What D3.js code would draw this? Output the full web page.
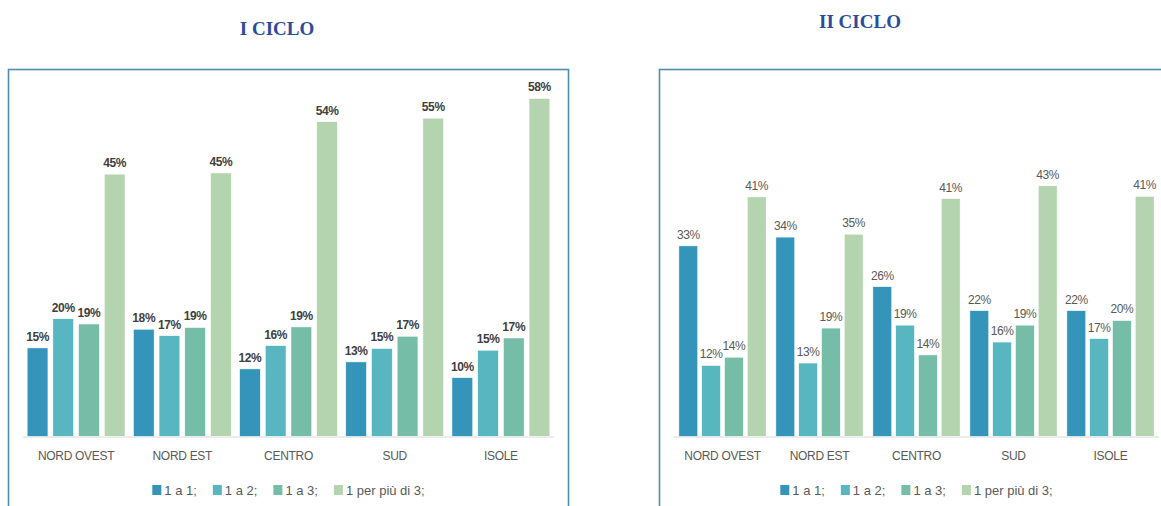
<!DOCTYPE html>
<html>
<head>
<meta charset="utf-8">
<script src="https://cdn.jsdelivr.net/npm/d3@7"></script>
<style>
  body { margin: 0; background: #fff; }
  svg { display: block; }
</style>
</head>
<body>
<div id="viz"></div>
<script>
const regions = ['NORD OVEST', 'NORD EST', 'CENTRO', 'SUD', 'ISOLE'];
const seriesNames = ['1 a 1;', '1 a 2;', '1 a 3;', '1 per più di 3;'];
const colors = ['#3494BA', '#58B6C0', '#75BDA7', '#B4D4B0'];

// I ciclo, one array per series (percent)
const primo1a1 = [15.2, 18.4, 11.6, 12.8, 10.1];
const primo1a2 = [20.2, 17.3, 15.6, 15.1, 14.8];
const primo1a3 = [19.3, 18.7, 18.8, 17.2, 16.9];
const primo1p3 = [45.0, 45.2, 54.0, 54.6, 58.0];

// II ciclo
const secondo1a1 = [32.7, 34.2, 25.7, 21.6, 21.6];
const secondo1a2 = [12.2, 12.6, 19.1, 16.2, 16.8];
const secondo1a3 = [13.6, 18.6, 14.0, 19.1, 19.9];
const secondo1p3 = [41.1, 34.7, 40.8, 43.0, 41.2];

const W = 1161, H = 506;
const svg = d3.select('#viz').append('svg')
  .attr('width', W).attr('height', H);

const y = d3.scaleLinear().domain([0, 62]).range([436.5, 75]);
const fmt = v => d3.format('.0f')(v) + '%';

function drawPanel({ title, titleX, titleY, series, box, range, padOuter, padSub, bold, labelColor }) {
  const g = svg.append('g');

  g.append('text')
    .attr('x', titleX).attr('y', titleY)
    .attr('text-anchor', 'middle')
    .style('font-family', '"Liberation Serif", serif')
    .style('font-weight', 'bold')
    .style('font-size', '19px')
    .attr('fill', '#2C4C9C')
    .text(title);

  g.append('rect')
    .attr('x', box[0]).attr('y', box[1])
    .attr('width', box[2]).attr('height', 600)
    .attr('fill', 'none')
    .attr('stroke', '#4F8DAA')
    .attr('stroke-width', 1.6);

  const x0 = d3.scaleBand().domain(regions).range(range)
    .paddingInner(padOuter).paddingOuter(padOuter / 2);
  const x1 = d3.scaleBand().domain(d3.range(seriesNames.length))
    .range([0, x0.bandwidth()]).paddingInner(padSub);

  g.append('line')
    .attr('x1', range[0]).attr('x2', range[1])
    .attr('y1', y(0) + 0.5).attr('y2', y(0) + 0.5)
    .attr('stroke', '#D9D9D9').attr('stroke-width', 1.2);

  regions.forEach((r, i) => {
    const grp = g.append('g').attr('transform', `translate(${x0(r)},0)`);
    series.forEach((s, k) => {
      const v = s[i];
      grp.append('rect')
        .attr('x', x1(k)).attr('y', y(v))
        .attr('width', x1.bandwidth()).attr('height', y(0) - y(v))
        .attr('fill', colors[k])
        .attr('stroke', '#fff').attr('stroke-width', 0.6);
      grp.append('text')
        .attr('x', x1(k) + x1.bandwidth() / 2)
        .attr('y', y(v) - 7)
        .attr('text-anchor', 'middle')
        .style('font-family', '"Liberation Sans", Arial, sans-serif')
        .style('font-size', '12px')
        .style('font-weight', bold ? 'bold' : 'normal')
        .style('letter-spacing', '-0.4px')
        .attr('fill', labelColor)
        .text(fmt(v));
    });
    g.append('text')
      .attr('x', x0(r) + x0.bandwidth() / 2)
      .attr('y', 460)
      .attr('text-anchor', 'middle')
      .style('font-family', '"Liberation Sans", Arial, sans-serif')
      .style('font-size', '12px')
      .style('letter-spacing', '-0.3px')
      .attr('fill', '#595959')
      .text(r);
  });

  // legend, centred under the plot
  const legend = g.append('g');
  let lx = 0;
  seriesNames.forEach((n, k) => {
    const item = legend.append('g').attr('transform', `translate(${lx},0)`);
    item.append('rect')
      .attr('x', 0).attr('y', -10).attr('width', 9).attr('height', 10)
      .attr('fill', colors[k]);
    const t = item.append('text')
      .attr('x', 12).attr('y', 0)
      .style('font-family', '"Liberation Sans", Arial, sans-serif')
      .style('font-size', '13px')
      .attr('fill', '#595959')
      .text(n);
    lx += 12 + t.node().getComputedTextLength() + 16;
  });
  const lw = lx - 16;
  const cx = (range[0] + range[1]) / 2;
  legend.attr('transform', `translate(${cx - lw / 2},495)`);
}

drawPanel({
  title: 'I CICLO', titleX: 277, titleY: 35,
  series: [primo1a1, primo1a2, primo1a3, primo1p3],
  box: [8.5, 69.5, 560], range: [23, 554],
  padOuter: 0.078, padSub: 0.19, bold: true, labelColor: '#404040'
});

drawPanel({
  title: 'II CICLO', titleX: 860, titleY: 28,
  series: [secondo1a1, secondo1a2, secondo1a3, secondo1p3],
  box: [659.5, 69.5, 560], range: [674, 1159],
  padOuter: 0.1, padSub: 0.17, bold: false, labelColor: '#595959'
});
</script>
</body>
</html>
